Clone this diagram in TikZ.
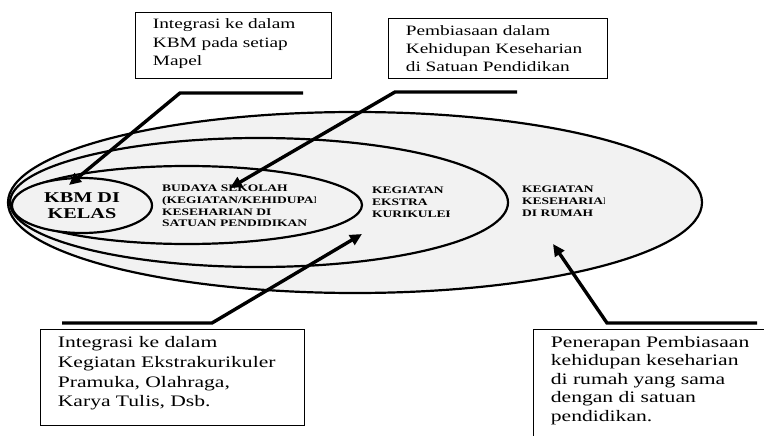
\documentclass[tikz,border=0pt]{standalone}
\usepackage{fontspec}
\setmainfont{Liberation Serif}[FakeStretch=1.35]
\usetikzlibrary{arrows.meta,shapes.geometric,positioning}
\definecolor{ringfill}{HTML}{F2F2F2}
\tikzset{
  ring/.style={ellipse, draw, line width=2.2pt, fill=ringfill, inner sep=0pt},
  ringlabel/.style={anchor=north west, inner sep=0pt, align=left, font=\fontsize{10}{11.6}\selectfont\bfseries},
  callout/.style={draw, line width=0.8pt, anchor=north west, align=left, inner xsep=17.5pt, inner ysep=6pt},
  leader/.style={line width=3.4pt, -{Triangle[length=12pt,width=11pt]}}
}
\begin{document}
\begin{tikzpicture}[x=1pt,y=-1pt]
  \useasboundingbox (0,0) rectangle (764,436);
  \clip (0,0) rectangle (764,436);
  % nested rings
  \node[ring, minimum width=694pt, minimum height=181pt] (home) at (355,202.5) {};
  \node[ring, minimum width=498pt, minimum height=129pt] (ekstra) at (259,202.5) {};
  \node[ring, minimum width=350pt, minimum height=78pt] (budaya) at (187,205) {};
  \node[ring, minimum width=140pt, minimum height=55pt, align=center,
        font=\fontsize{15}{16.5}\selectfont\bfseries] (kbm) at (82,205.5) {KBM DI\\KELAS};
  % ring labels, cut off as printed
  \begin{scope}
    \clip (0,0) rectangle (315,436);
    \node[ringlabel] (budayatext) at (162,185) {BUDAYA SEKOLAH\\(KEGIATAN/KEHIDUPAN\\KESEHARIAN DI\\SATUAN PENDIDIKAN};
  \end{scope}
  \begin{scope}
    \clip (0,0) rectangle (449,436);
    \node[ringlabel] (ekstratext) at (372,187) {KEGIATAN\\EKSTRA\\KURIKULER};
  \end{scope}
  \begin{scope}
    \clip (0,0) rectangle (604,436);
    \node[ringlabel] (hometext) at (522,186) {KEGIATAN\\KESEHARIAN\\DI RUMAH};
  \end{scope}
  % callout boxes
  \node[callout, text width=161pt, text height=10.5pt, text depth=43.5pt,
        font=\fontsize{14.3}{18.2}\selectfont] (mapel) at (135,12)
    {Integrasi ke dalam\\KBM pada setiap\\Mapel};
  \node[callout, text width=184pt, text height=11.5pt, text depth=36.5pt,
        font=\fontsize{14.3}{17.6}\selectfont] (satuan) at (388,18)
    {Pembiasaan dalam\\Kehidupan Keseharian\\di Satuan Pendidikan};
  \node[callout, text width=229pt, text height=12pt, text depth=72pt,
        font=\fontsize{16}{19.8}\selectfont] (pramuka) at (40,329)
    {Integrasi ke dalam\\Kegiatan Ekstrakurikuler\\Pramuka, Olahraga,\\Karya Tulis, Dsb.};
  \node[callout, text width=250pt, text height=12pt, text depth=100pt,
        font=\fontsize{16}{18.5}\selectfont] (rumah) at (533,329)
    {Penerapan Pembiasaan\\kehidupan keseharian\\di rumah yang sama\\dengan di satuan\\pendidikan.};
  % leaders
  \coordinate (lead1) at (303,93);   \coordinate (bend1) at (180,93);  \coordinate (tip1) at (69,185);
  \coordinate (lead2) at (517,92);   \coordinate (bend2) at (395,92);  \coordinate (tip2) at (230,188);
  \coordinate (lead3) at (62,323);   \coordinate (bend3) at (212,323); \coordinate (tip3) at (362,234);
  \coordinate (lead4) at (757,323);  \coordinate (bend4) at (607,323); \coordinate (tip4) at (553,244);
  \foreach \n in {1,2,3,4}{
    \draw[leader] (lead\n) -- (bend\n) -- (tip\n);
  }
\end{tikzpicture}
\end{document}
